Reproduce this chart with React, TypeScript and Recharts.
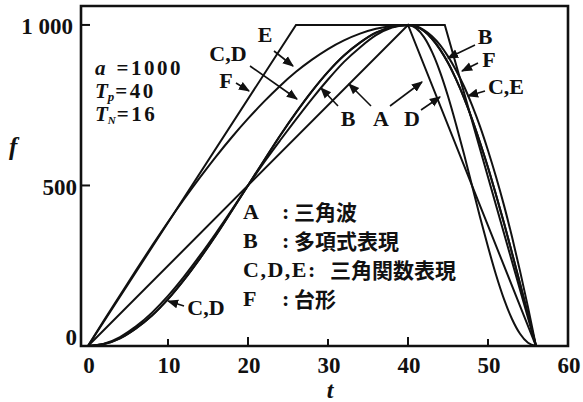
import { LineChart, Line, XAxis, YAxis, ReferenceArea } from "recharts";

// t grid for the rise (0..40) and fall (40..56) parts
const T_RISE = [0, 2, 4, 6, 8, 10, 12, 14, 16, 18, 20, 22, 24, 26, 28, 30, 32, 34, 36, 38, 40];
const T_FALL = [40, 41, 42, 43, 44, 45, 46, 47, 48, 49, 50, 51, 52, 53, 54, 55, 56];

// A: triangle wave, F: trapezoid (corner points)
const A_T = [0, 40, 56];
const A_F = [0, 1000, 0];
const F_T = [0, 26, 44.6, 56];
const F_F = [0, 1000, 1000, 0];

const B_RISE = [0, 7, 28, 61, 104, 156, 216, 282, 352, 425, 500, 572, 640, 706, 770, 830, 885, 930, 968, 992, 1000];
const B_FALL = [1000, 996, 984, 965, 938, 902, 859, 809, 750, 684, 609, 527, 438, 340, 234, 121, 0];
const CD_RISE = [0, 6, 24, 55, 95, 146, 206, 273, 345, 422, 500, 578, 655, 727, 794, 854, 905, 945, 976, 994, 1000];
const CE_FALL = [1000, 995, 981, 957, 924, 882, 831, 773, 707, 634, 556, 471, 383, 290, 195, 98, 0];
const D_FALL = [1000, 990, 962, 916, 854, 778, 691, 598, 500, 402, 309, 222, 146, 84, 38, 10, 0];
const E_RISE = [0, 80, 158, 236, 312, 386, 457, 525, 590, 651, 708, 761, 810, 854, 892, 925, 952, 973, 988, 997, 1000];

const X_TICKS = [0, 10, 20, 30, 40, 50, 60];
const Y_TICKS = [0, 500, 1000];
const Y_TICK_LABELS = ["0", "500", "1 000"];

const LEGEND = [
  { key: "A", text: "三角波" },
  { key: "B", text: "多項式表現" },
  { key: "C,D,E:", text: "三角関数表現" },
  { key: "F", text: "台形" },
];

const pts = (t: number[], f: number[]) => t.map((v, i) => ({ t: v, f: f[i] }));
const join = (rise: number[], fall: number[]) =>
  pts([...T_RISE, ...T_FALL.slice(1)], [...rise, ...fall.slice(1)]);

const SERIES = [
  { name: "A", data: pts(A_T, A_F), type: "linear" },
  { name: "F", data: pts(F_T, F_F), type: "linear" },
  { name: "B", data: join(B_RISE, B_FALL), type: "monotone" },
  { name: "C", data: join(CD_RISE, CE_FALL), type: "monotone" },
  { name: "D", data: join(CD_RISE, D_FALL), type: "monotone" },
  { name: "E", data: join(E_RISE, CE_FALL), type: "monotone" },
];

const INK = "#111";
const NUM_FONT = "'Liberation Serif', 'DejaVu Serif', serif";
const JP_FONT = "'Noto Sans CJK JP', sans-serif";

const XTick = ({ x, y, payload }: any) => {
  const len = payload.value === 20 || payload.value === 40 ? 9 : 7;
  return (
    <g>
      {payload.value > 0 && payload.value < 60 && (
        <line x1={x} x2={x} y1={y} y2={y - len} stroke={INK} strokeWidth={2} />
      )}
      <text x={x + 1} y={y + 27} textAnchor="middle" fontFamily={NUM_FONT}
        fontWeight="bold" fontSize={23} fill={INK}>
        {payload.value}
      </text>
    </g>
  );
};

const YTick = ({ x, y, payload }: any) => {
  const i = Y_TICKS.indexOf(payload.value);
  return (
    <g>
      {payload.value > 0 && (
        <line x1={x} x2={x + 9} y1={y} y2={y} stroke={INK} strokeWidth={2} />
      )}
      <text x={payload.value === 1000 ? x - 8 : x - 4} y={payload.value === 0 ? y - 9 : y + 2}
        textAnchor="end" dominantBaseline="central" fontFamily={NUM_FONT} fontWeight="bold"
        fontSize={23} fill={INK}>
        {Y_TICK_LABELS[i]}
      </text>
    </g>
  );
};

// pointer labels: text position and arrow (from -> tip)
const POINTERS = [
  { label: "E", lx: 265, ly: 34, x1: 274, y1: 51, x2: 293, y2: 66 },
  { label: "C,D", lx: 228, ly: 53, x1: 250, y1: 66, x2: 297, y2: 99 },
  { label: "F", lx: 226, ly: 80, x1: 236, y1: 83, x2: 249, y2: 91 },
  { label: "B", lx: 348, ly: 118, x1: 338, y1: 106, x2: 321, y2: 88 },
  { label: "A", lx: 381, ly: 118, x1: 371, y1: 106, x2: 349, y2: 84 },
  { label: "", lx: 0, ly: 0, x1: 390, y1: 106, x2: 422, y2: 82 },
  { label: "D", lx: 412, ly: 118, x1: 421, y1: 110, x2: 440, y2: 97 },
  { label: "B", lx: 485, ly: 36, x1: 475, y1: 45, x2: 448, y2: 58 },
  { label: "F", lx: 489, ly: 59, x1: 478, y1: 63, x2: 462, y2: 71 },
  { label: "C,E", lx: 506, ly: 86, x1: 485, y1: 91, x2: 468, y2: 96 },
  { label: "C,D", lx: 206, ly: 307, x1: 184, y1: 306, x2: 168, y2: 301 },
];

export default function App() {
  return (
    <div style={{ position: "absolute", left: 0, top: 0, width: 583, height: 402, background: "#fff" }}>
      <LineChart width={583} height={402} margin={{ top: 6, right: 15, bottom: 0, left: 0 }}>
        <XAxis dataKey="t" type="number" domain={[-0.875, 60]} ticks={X_TICKS}
          allowDataOverflow axisLine={false} tickLine={false} tickSize={0} tickMargin={0}
          height={56} tick={<XTick />} interval={0} />
        <YAxis type="number" domain={[0, 1059]} ticks={Y_TICKS} allowDataOverflow
          axisLine={false} tickLine={false} tickSize={0} tickMargin={0} width={81}
          tick={<YTick />} interval={0} />
        <ReferenceArea x1={-0.875} x2={60} y1={0} y2={1059} fill="none" stroke={INK}
          strokeWidth={2.6} ifOverflow="visible" />
        {SERIES.map((s) => (
          <Line key={s.name} data={s.data} dataKey="f" type={s.type as any} stroke={INK}
            strokeWidth={2} dot={false} isAnimationActive={false} />
        ))}
      </LineChart>

      <svg width={583} height={402} style={{ position: "absolute", left: 0, top: 0, pointerEvents: "none" }}>
        <defs>
          <marker id="ah" viewBox="0 0 10 10" refX="9" refY="5" markerWidth="7" markerHeight="7" orient="auto">
            <path d="M0,1 L10,5 L0,9 z" fill={INK} />
          </marker>
        </defs>

        {/* axis titles */}
        <text x={9} y={155} fontFamily={NUM_FONT} fontStyle="italic" fontWeight="bold" fontSize={25} fill={INK}>f</text>
        <text x={330} y={398} textAnchor="middle" fontFamily={NUM_FONT} fontStyle="italic" fontWeight="bold" fontSize={24} fill={INK}>t</text>

        {/* parameters */}
        <g fontFamily={NUM_FONT} fontWeight="bold" fontSize={21} fill={INK}>
          <text x={95} y={75}><tspan fontStyle="italic">a</tspan><tspan dx={11} letterSpacing={2.5}>=1000</tspan></text>
          <text x={95} y={98}><tspan fontStyle="italic">T</tspan><tspan fontSize={13} dy={3} fontStyle="italic">p</tspan><tspan dy={-3} dx={1} letterSpacing={2.5}>=40</tspan></text>
          <text x={95} y={121}><tspan fontStyle="italic">T</tspan><tspan fontSize={11} dy={3} fontStyle="italic">N</tspan><tspan dy={-3} dx={1} letterSpacing={2.5}>=16</tspan></text>
        </g>

        {/* pointers */}
        {POINTERS.map((p, i) => (
          <g key={i}>
            <line x1={p.x1} y1={p.y1} x2={p.x2} y2={p.y2} stroke={INK} strokeWidth={1.6} markerEnd="url(#ah)" />
            {p.label && (
              <text x={p.lx} y={p.ly} textAnchor="middle" dominantBaseline="central"
                fontFamily={NUM_FONT} fontWeight="bold" fontSize={22} fill={INK}>{p.label}</text>
            )}
          </g>
        ))}

        {/* legend */}
        {LEGEND.map((l, i) => {
          const y = 211 + i * 29;
          const long = l.key.length > 1;
          return (
            <g key={l.key}>
              <text x={243} y={y} dominantBaseline="central" fontFamily={NUM_FONT} fontWeight="bold"
                fontSize={22} letterSpacing={long ? 1.5 : 0} fill={INK}>{l.key}</text>
              {!long && (
                <text x={282} y={y} dominantBaseline="central" fontFamily={NUM_FONT} fontWeight="bold" fontSize={22} fill={INK}>:</text>
              )}
              <text x={long ? 330 : 294} y={y} dominantBaseline="central" fontFamily={JP_FONT} fontWeight="bold" fontSize={21} fill={INK}>{l.text}</text>
            </g>
          );
        })}
      </svg>
    </div>
  );
}
